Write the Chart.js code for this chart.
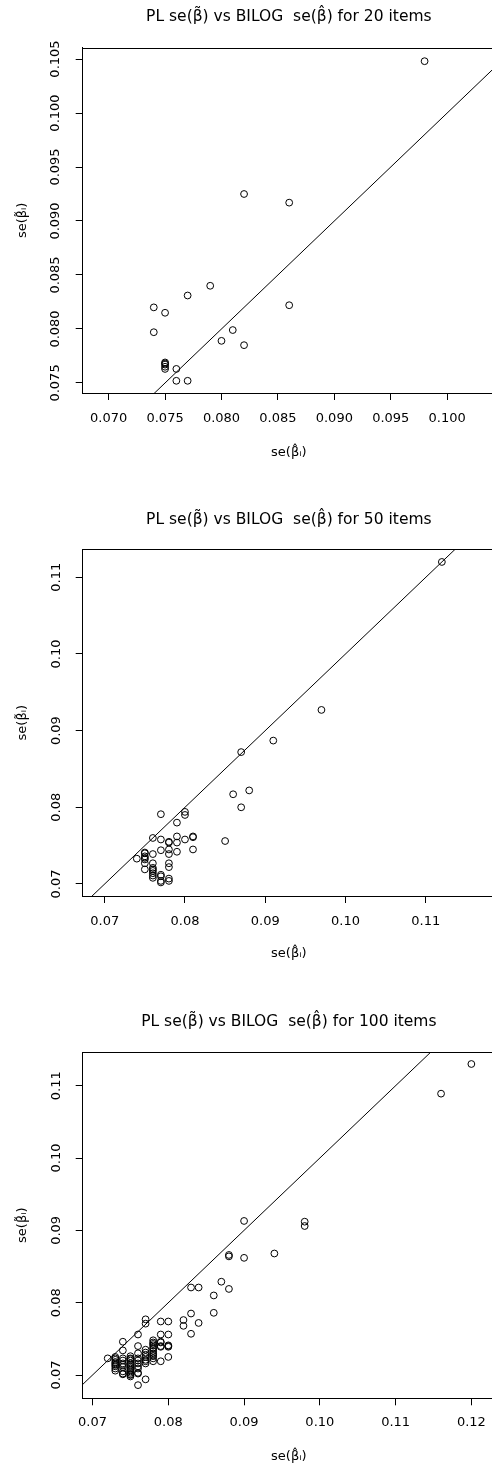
<!DOCTYPE html>
<html>
<head>
<meta charset="utf-8">
<script src="https://cdn.jsdelivr.net/npm/chart.js@4"></script>
<style>
  html, body { margin: 0; padding: 0; background: #fff; overflow: hidden; }
  body { width: 492px; height: 1467px; position: relative; overflow: hidden; }
  canvas { position: absolute; left: 0; }
</style>
</head>
<body>
<canvas id="c1" width="500" height="480" style="top:0px"></canvas>
<canvas id="c2" width="500" height="490" style="top:490px"></canvas>
<canvas id="c3" width="500" height="472" style="top:995px"></canvas>
<script>
// ---------- Data ----------
const titles = [
  'PL se(\u03B2\u0303) vs BILOG  se(\u03B2\u0302) for 20 items',
  'PL se(\u03B2\u0303) vs BILOG  se(\u03B2\u0302) for 50 items',
  'PL se(\u03B2\u0303) vs BILOG  se(\u03B2\u0302) for 100 items'
];
const xAxisTitle = 'se(\u03B2\u0302\u1D62)';
const yAxisTitle = 'se(\u03B2\u0303\u1D62)';

// 20 items: BILOG se (x) vs PL se (y)
const bilog20 = [0.098, 0.082, 0.086, 0.079, 0.077, 0.074, 0.075, 0.086, 0.074, 0.081,
                 0.080, 0.082, 0.075, 0.075, 0.075, 0.075, 0.075, 0.076, 0.076, 0.077];
const pl20    = [0.1048, 0.0925, 0.0917, 0.0840, 0.0831, 0.0820, 0.0815, 0.0822, 0.0797, 0.0799,
                 0.0789, 0.0785, 0.0769, 0.0768, 0.0767, 0.0765, 0.0763, 0.0763, 0.0752, 0.0752];

// 50 items
const bilog50 = [0.112, 0.097, 0.091, 0.087, 0.088, 0.086, 0.087, 0.085, 0.077, 0.080,
                 0.080, 0.079, 0.076, 0.077, 0.078, 0.078, 0.079, 0.079, 0.080, 0.081,
                 0.081, 0.081, 0.077, 0.078, 0.079, 0.078, 0.076, 0.074, 0.075, 0.075,
                 0.075, 0.075, 0.075, 0.075, 0.076, 0.076, 0.076, 0.076, 0.076, 0.076,
                 0.078, 0.078, 0.077, 0.077, 0.077, 0.078, 0.078, 0.076, 0.075, 0.077];
const pl50    = [0.1120, 0.0927, 0.0887, 0.0872, 0.0822, 0.0817, 0.0800, 0.0756, 0.0791, 0.0794,
                 0.0790, 0.0780, 0.0760, 0.0758, 0.0755, 0.0754, 0.0762, 0.0754, 0.0758, 0.0762,
                 0.0761, 0.0745, 0.0744, 0.0745, 0.0742, 0.0739, 0.0739, 0.0733, 0.0741, 0.0740,
                 0.0734, 0.0732, 0.0727, 0.0719, 0.0727, 0.0719, 0.0717, 0.0714, 0.0711, 0.0708,
                 0.0727, 0.0722, 0.0712, 0.0704, 0.0702, 0.0707, 0.0704, 0.0721, 0.0736, 0.0710];

// 100 items
const bilog100 = [0.120, 0.116, 0.098, 0.098, 0.090, 0.094, 0.090, 0.088, 0.088, 0.087,
                  0.088, 0.083, 0.084, 0.086, 0.086, 0.083, 0.084, 0.083, 0.082, 0.082,
                  0.079, 0.080, 0.077, 0.077, 0.076, 0.079, 0.080, 0.074,
                  0.078, 0.078, 0.078, 0.078, 0.078, 0.078, 0.078, 0.078, 0.078, 0.078,
                  0.079, 0.079, 0.079, 0.079,
                  0.080, 0.080, 0.080,
                  0.076, 0.076, 0.076, 0.076, 0.076, 0.076, 0.076, 0.076,
                  0.077, 0.077, 0.077, 0.077, 0.077, 0.077,
                  0.074, 0.074, 0.074, 0.074, 0.074, 0.074, 0.074,
                  0.073, 0.073, 0.073, 0.073, 0.073, 0.073, 0.073,
                  0.072,
                  0.075, 0.075, 0.075, 0.075, 0.075, 0.075, 0.075, 0.075, 0.075, 0.075, 0.075, 0.075,
                  0.078, 0.078, 0.076, 0.076, 0.077, 0.077, 0.075, 0.075, 0.074, 0.074, 0.073, 0.073,
                  0.079, 0.080];
const pl100   = [0.1130, 0.1089, 0.0912, 0.0906, 0.0913, 0.0868, 0.0862, 0.0866, 0.0864, 0.0829,
                 0.0819, 0.0821, 0.0821, 0.0810, 0.0786, 0.0785, 0.0772, 0.0757, 0.0776, 0.0768,
                 0.0774, 0.0774, 0.0777, 0.0771, 0.0756, 0.0756, 0.0756, 0.0746,
                 0.0748, 0.0745, 0.0741, 0.0738, 0.0733, 0.0728, 0.0723, 0.0719, 0.0730, 0.0726,
                 0.0745, 0.0739, 0.0740, 0.0719,
                 0.0740, 0.0739, 0.0725,
                 0.0740, 0.0730, 0.0723, 0.0716, 0.0702, 0.0686, 0.0709, 0.0720,
                 0.0735, 0.0728, 0.0721, 0.0716, 0.0694, 0.0725,
                 0.0734, 0.0723, 0.0716, 0.0711, 0.0702, 0.0705, 0.0720,
                 0.0725, 0.0721, 0.0718, 0.0714, 0.0709, 0.0706, 0.0712,
                 0.0723,
                 0.0726, 0.0723, 0.0720, 0.0714, 0.0711, 0.0707, 0.0703, 0.0701, 0.0698, 0.0722, 0.0709, 0.0705,
                 0.0736, 0.0743, 0.0712, 0.0703, 0.0719, 0.0731, 0.0716, 0.0700, 0.0714, 0.0701, 0.0716, 0.0723,
                 0.0746, 0.0741];

// identity line y = x
const identity = [0.06, 0.13];

// tick values and labels
const xTicks1 = [0.070, 0.075, 0.080, 0.085, 0.090, 0.095, 0.100];
const xLabels1 = ['0.070', '0.075', '0.080', '0.085', '0.090', '0.095', '0.100'];
const yTicks1 = [0.075, 0.080, 0.085, 0.090, 0.095, 0.100, 0.105];
const yLabels1 = ['0.075', '0.080', '0.085', '0.090', '0.095', '0.100', '0.105'];
const xTicks2 = [0.07, 0.08, 0.09, 0.10, 0.11];
const xLabels2 = ['0.07', '0.08', '0.09', '0.10', '0.11'];
const yTicks2 = [0.07, 0.08, 0.09, 0.10, 0.11];
const yLabels2 = ['0.07', '0.08', '0.09', '0.10', '0.11'];
const xTicks3 = [0.07, 0.08, 0.09, 0.10, 0.11, 0.12];
const xLabels3 = ['0.07', '0.08', '0.09', '0.10', '0.11', '0.12'];
const yTicks3 = [0.07, 0.08, 0.09, 0.10, 0.11];
const yLabels3 = ['0.07', '0.08', '0.09', '0.10', '0.11'];

// axis ranges (plot region extends slightly past the visible right edge)
const xRange1 = [0.0677, 0.10424], yRange1 = [0.07407, 0.10605];
const xRange2 = [0.06726, 0.11862], yRange2 = [0.06843, 0.11365];
const xRange3 = [0.0687, 0.12312], yRange3 = [0.06678, 0.11466];

// ---------- Rendering ----------
const FONT = "'DejaVu Sans', 'Liberation Sans', Arial, sans-serif";

const topBorder = {
  id: 'topBorder',
  afterDraw(chart) {
    const { ctx, chartArea: a } = chart;
    ctx.save();
    ctx.strokeStyle = '#000';
    ctx.lineWidth = 1;
    ctx.beginPath();
    ctx.moveTo(a.left, Math.round(a.top) + 0.5);
    ctx.lineTo(a.right, Math.round(a.top) + 0.5);
    ctx.stroke();
    ctx.restore();
  }
};

function makeChart(id, p) {
  const pts = p.xs.map((x, i) => ({ x: x, y: p.ys[i] }));
  const line = identity.map(v => ({ x: v, y: v }));
  return new Chart(document.getElementById(id), {
    type: 'scatter',
    data: {
      datasets: [
        {
          type: 'line',
          data: line,
          borderColor: '#000',
          borderWidth: 1,
          pointRadius: 0,
          fill: false,
          tension: 0
        },
        {
          type: 'scatter',
          data: pts,
          pointStyle: 'circle',
          pointRadius: 3.4,
          borderWidth: 1,
          borderColor: '#000',
          backgroundColor: 'rgba(0,0,0,0)'
        }
      ]
    },
    options: {
      responsive: false,
      animation: false,
      layout: { padding: 0 },
      plugins: {
        legend: { display: false },
        tooltip: { enabled: false },
        title: {
          display: true,
          fullSize: false,
          text: p.title,
          color: '#000',
          font: { family: FONT, size: 15.5, weight: 'normal' },
          padding: { top: p.titleTop, bottom: p.titleBottom }
        }
      },
      scales: {
        x: {
          type: 'linear',
          min: p.xRange[0],
          max: p.xRange[1],
          afterBuildTicks: s => { s.ticks = p.xTicks.map(v => ({ value: v })); },
          afterFit: s => { s.height = p.xAxisH; },
          grid: { drawOnChartArea: false, drawTicks: true, tickLength: 7, tickColor: '#000', lineWidth: 1 },
          border: { display: true, color: '#000', width: 1 },
          ticks: {
            color: '#000',
            font: { family: FONT, size: 13 },
            padding: p.xTickPad,
            maxRotation: 0,
            minRotation: 0,
            autoSkip: false,
            callback: (v, i) => p.xLabels[i]
          },
          title: {
            display: true,
            text: xAxisTitle,
            color: '#000',
            font: { family: FONT, size: 13 },
            padding: { top: 0, bottom: p.xTitlePad }
          }
        },
        y: {
          type: 'linear',
          min: p.yRange[0],
          max: p.yRange[1],
          afterBuildTicks: s => { s.ticks = p.yTicks.map(v => ({ value: v })); },
          afterFit: s => { s.width = 82.7; },
          grid: { drawOnChartArea: false, drawTicks: true, tickLength: 7, tickColor: '#000', lineWidth: 1 },
          border: { display: true, color: '#000', width: 1 },
          ticks: {
            color: '#000',
            font: { family: FONT, size: 13 },
            padding: p.yTickPad,
            minRotation: 90,
            maxRotation: 90,
            crossAlign: 'center',
            autoSkip: false,
            callback: (v, i) => p.yLabels[i]
          },
          title: {
            display: true,
            text: yAxisTitle,
            color: '#000',
            font: { family: FONT, size: 13 },
            padding: { top: 15.2, bottom: 0 }
          }
        }
      }
    },
    plugins: [topBorder]
  });
}

makeChart('c1', {
  title: titles[0], xs: bilog20, ys: pl20,
  xRange: xRange1, yRange: yRange1,
  xTicks: xTicks1, xLabels: xLabels1, yTicks: yTicks1, yLabels: yLabels1,
  titleTop: 7.4, titleBottom: 21.7, xAxisH: 87, xTickPad: 11, xTitlePad: 19.2, yTickPad: 1.6
});
makeChart('c2', {
  title: titles[1], xs: bilog50, ys: pl50,
  xRange: xRange2, yRange: yRange2,
  xTicks: xTicks2, xLabels: xLabels2, yTicks: yTicks2, yLabels: yLabels2,
  titleTop: 20.7, titleBottom: 20.0, xAxisH: 84, xTickPad: 11, xTitlePad: 18.2, yTickPad: 5.0
});
makeChart('c3', {
  title: titles[2], xs: bilog100, ys: pl100,
  xRange: xRange3, yRange: yRange3,
  xTicks: xTicks3, xLabels: xLabels3, yTicks: yTicks3, yLabels: yLabels3,
  titleTop: 17.4, titleBottom: 21.0, xAxisH: 68.7, xTickPad: 10, xTitlePad: 2.5, yTickPad: 5.0
});
</script>
</body>
</html>
